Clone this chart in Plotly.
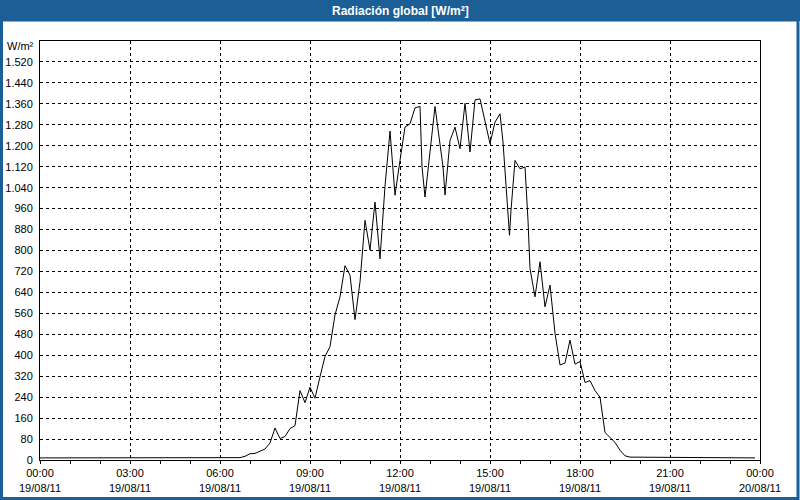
import plotly.graph_objects as go

# ---------------- data ----------------
DATE = "2011-08-19"
times = ["00:00", "06:25", "06:40", "06:50", "07:00", "07:10", "07:20", "07:30",
         "07:40", "07:50", "08:00", "08:10", "08:20", "08:30", "08:40", "08:50",
         "09:00", "09:10", "09:20", "09:30", "09:40", "09:50", "10:00", "10:10",
         "10:20", "10:30", "10:40", "10:50", "11:00", "11:10", "11:20", "11:30",
         "11:40", "11:50", "12:00", "12:10", "12:20", "12:30", "12:40", "12:44",
         "12:50", "13:10", "13:26", "13:30", "13:40", "13:50", "14:00", "14:10",
         "14:20", "14:30", "14:40", "14:50", "15:00", "15:10", "15:20", "15:26",
         "15:32", "15:39", "15:42", "15:50", "16:00", "16:10", "16:16", "16:20",
         "16:30", "16:40", "16:50", "17:00", "17:10", "17:20", "17:30", "17:40",
         "17:50", "18:00", "18:10", "18:20", "18:30", "18:40", "18:50", "19:00",
         "19:10", "19:20", "19:30", "19:40", "23:50"]
radiation = [8, 8, 9, 14, 24, 25, 33, 42,
             65, 122, 82, 90, 120, 131, 265, 219,
             278, 236, 318, 395, 433, 554, 623, 742,
             706, 536, 680, 915, 802, 985, 768, 1045,
             1256, 1011, 1144, 1271, 1284, 1345, 1350, 1120,
             1004, 1350, 1120, 1012, 1220, 1271, 1189, 1362,
             1176, 1375, 1379, 1297, 1208, 1290, 1322, 1214,
             1030, 858, 954, 1144, 1112, 1119, 915, 731,
             623, 757, 585, 668, 484, 363, 370, 458,
             366, 376, 296, 303, 265, 240, 105, 84,
             67, 37, 16, 11, 8]

x_tick_vals = ["2011-08-19 00:00", "2011-08-19 03:00", "2011-08-19 06:00",
               "2011-08-19 09:00", "2011-08-19 12:00", "2011-08-19 15:00",
               "2011-08-19 18:00", "2011-08-19 21:00", "2011-08-20 00:00"]
x_tick_labels = ["00:00<br>19/08/11", "03:00<br>19/08/11", "06:00<br>19/08/11",
                 "09:00<br>19/08/11", "12:00<br>19/08/11", "15:00<br>19/08/11",
                 "18:00<br>19/08/11", "21:00<br>19/08/11", "00:00<br>20/08/11"]
y_max = 1600
y_step = 80
y_tick_vals = list(range(0, y_max, y_step))   # 0 ... 1520 (1600 is unlabelled)

title_text = "Radiación global [W/m²]"
unit_text = "W/m²"

# ---------------- figure ----------------
W, H = 800, 500
ML, MR, MT, MB = 40, 40, 41, 40
PW, PH = W - ML - MR, H - MT - MB

def px(xp):
    return (xp - ML) / PW

def py(yp):
    return (H - MB - yp) / PH

BLUE = "#1c5e96"
FONT = "Liberation Sans"

x_full = [f"{DATE} {t}" for t in times]

fig = go.Figure()
fig.add_trace(go.Scatter(x=x_full, y=radiation, mode="lines",
                         line=dict(color="black", width=1), hoverinfo="skip"))

fig.update_layout(
    width=W, height=H,
    margin=dict(l=ML, r=MR, t=MT, b=MB, pad=0, autoexpand=False),
    paper_bgcolor="white", plot_bgcolor="white",
    showlegend=False,
    separators=",.",
    font=dict(family=FONT, size=11, color="black"),
)

fig.update_xaxes(
    type="date", automargin=False,
    range=[x_tick_vals[0], x_tick_vals[-1]],
    tickmode="array", tickvals=x_tick_vals, ticktext=x_tick_labels,
    showgrid=True, gridcolor="black", gridwidth=1, griddash="3px,3px",
    showline=True, linecolor="black", linewidth=1, mirror=True,
    ticks="outside", ticklen=3, tickcolor="black", tickwidth=1,
    minor=dict(dtick=3600000, ticks="outside", ticklen=3, tickcolor="black",
               showgrid=False),
    tickfont=dict(family=FONT, size=11, color="black"),
    zeroline=False, fixedrange=True,
)
fig.update_yaxes(
    automargin=False,
    range=[0, y_max], tickmode="array", tickvals=y_tick_vals,
    separatethousands=True,
    showgrid=True, gridcolor="black", gridwidth=1, griddash="3px,3px",
    showline=True, linecolor="black", linewidth=1, mirror=True,
    ticks="", ticklabelstandoff=4,
    tickfont=dict(family=FONT, size=11, color="black"),
    zeroline=False, fixedrange=True,
)

# title bar and window border
fig.add_shape(type="rect", xref="paper", yref="paper",
              x0=px(0), x1=px(W), y0=py(21), y1=py(0),
              fillcolor=BLUE, line=dict(width=0), layer="below")
fig.add_shape(type="rect", xref="paper", yref="paper",
              x0=px(1.5), x1=px(W - 2), y0=py(H - 1.5), y1=py(20),
              fillcolor="rgba(0,0,0,0)", line=dict(color=BLUE, width=3), layer="below")

fig.add_annotation(text=f"<b>{title_text}</b>", xref="paper", yref="paper",
                   x=px(W / 2), y=py(10.5), xanchor="center", yanchor="middle",
                   showarrow=False, font=dict(family=FONT, size=12, color="white"))
fig.add_annotation(text=unit_text, xref="paper", yref="paper",
                   x=px(36), y=py(46), xanchor="right", yanchor="middle",
                   showarrow=False, font=dict(family=FONT, size=11, color="black"))

fig.write_html("out.html",
               config={"displayModeBar": False},
               post_script="document.body.style.margin='0';"
                           "document.body.style.overflow='hidden';")
